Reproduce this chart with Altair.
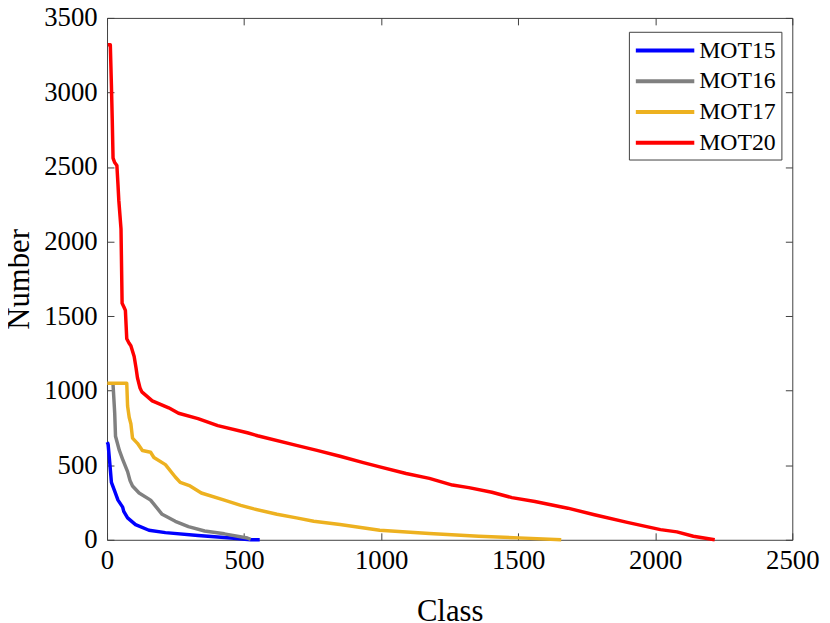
import altair as alt
import pandas as pd

# ---- data ----
mot15_x = [1, 4, 10, 16, 28, 40, 57, 61, 75, 104, 153, 213, 332, 452, 524, 557]
mot15_y = [655, 640, 516, 385, 326, 266, 219, 191, 147, 102, 64, 48, 29, 12, 0, 0]

mot16_x = [22, 28, 31, 45, 57, 75, 84, 93, 117, 159, 201, 249, 297, 356, 428, 512, 524]
mot16_y = [1040, 849, 694, 599, 540, 457, 397, 361, 314, 266, 171, 124, 88, 59, 40, 12, 3]

mot17_x = [1, 72, 75, 81, 87, 93, 111, 129, 159, 171, 213, 249, 267, 303, 344, 428, 488,
           536, 620, 691, 754, 850, 995, 1176, 1356, 1503, 1657]
mot17_y = [1050, 1050, 897, 820, 778, 682, 647, 599, 587, 552, 504, 421, 385, 361, 314, 266,
           231, 207, 171, 147, 124, 102, 64, 42, 24, 13, 0]

mot20_x = [3, 12, 16, 19, 22, 28, 36, 40, 43, 51, 55, 62, 67, 72, 80, 87, 99, 106, 111, 120,
           127, 165, 225, 261, 332, 404, 512, 549, 691, 766, 850, 935, 995, 1091, 1176, 1260,
           1320, 1404, 1477, 1561, 1681, 1778, 1898, 2019, 2079, 2139, 2217]
mot20_y = [3320, 3320, 3050, 2823, 2560, 2530, 2510, 2380, 2276, 2085, 1586, 1560, 1539, 1348,
           1320, 1301, 1229, 1150, 1087, 1020, 992, 932, 885, 849, 813, 766, 718, 698, 633, 600,
           560, 518, 489, 445, 412, 367, 350, 319, 283, 257, 212, 168, 117, 68, 53, 24, 0]

series_names = ["MOT15", "MOT16", "MOT17", "MOT20"]
series_colors = ["#0000FF", "#808080", "#EDB120", "#FF0000"]
x_ticks = [0, 500, 1000, 1500, 2000, 2500]
y_ticks = [0, 500, 1000, 1500, 2000, 2500, 3000, 3500]

rows = []
for name, xs, ys in zip(series_names, [mot15_x, mot16_x, mot17_x, mot20_x],
                        [mot15_y, mot16_y, mot17_y, mot20_y]):
    for i, (a, b) in enumerate(zip(xs, ys)):
        rows.append({"cls": a, "num": b, "series": name, "idx": i})
df = pd.DataFrame(rows)

FONT = "Liberation Serif"
AX = "#404040"

xscale = alt.Scale(domain=[0, 2500], nice=False, zero=False)
yscale = alt.Scale(domain=[0, 3500], nice=False, zero=False)

main_x = alt.Axis(orient="bottom", values=x_ticks, format="d", ticks=False, domain=False,
                  grid=False, labelFont=FONT, labelFontSize=27,
                  labelPadding=8, labelFlush=False,
                  title="Class", titleFont=FONT, titleFontSize=31, titleFontWeight="normal",
                  titlePadding=23)
main_y = alt.Axis(orient="left", values=y_ticks, format="d", ticks=False, domain=False,
                  grid=False, labelFont=FONT, labelFontSize=27,
                  labelPadding=10, labelFlush=False,
                  title="Number", titleFont=FONT, titleFontSize=31, titleFontWeight="normal",
                  titlePadding=8)


def tick_axis(orient, vals):
    return alt.Axis(orient=orient, values=vals, offset=-7, tickSize=7, ticks=True,
                    labels=False, domain=False, grid=False, title=None,
                    tickColor=AX, tickWidth=1)


lines = alt.Chart(df).mark_line(strokeWidth=3.5, strokeJoin="round").encode(
    x=alt.X("cls:Q", scale=xscale, axis=main_x),
    y=alt.Y("num:Q", scale=yscale, axis=main_y),
    color=alt.Color("series:N",
                    scale=alt.Scale(domain=series_names, range=series_colors),
                    legend=alt.Legend(orient="none", legendX=527, legendY=14, title=None,
                                      strokeColor=AX, fillColor="white", padding=5,
                                      labelFont=FONT, labelFontSize=24,
                                      symbolType="M-1,0H3.92", symbolStrokeWidth=4,
                                      symbolSize=576, labelOffset=38, rowPadding=5)),
    order="idx:Q",
)

ticks_bl = alt.Chart(df).mark_point(opacity=0).encode(
    x=alt.X("cls:Q", scale=xscale, axis=tick_axis("bottom", x_ticks)),
    y=alt.Y("num:Q", scale=yscale, axis=tick_axis("left", y_ticks)),
)
ticks_tr = alt.Chart(df).mark_point(opacity=0).encode(
    x=alt.X("cls:Q", scale=xscale, axis=tick_axis("top", x_ticks)),
    y=alt.Y("num:Q", scale=yscale, axis=tick_axis("right", y_ticks)),
)

chart = alt.layer(lines, ticks_bl, ticks_tr).resolve_scale(
    x="independent", y="independent"
).properties(
    width=692, height=527,
    padding={"left": 100, "top": 7, "right": 30, "bottom": 81},
    autosize=alt.AutoSizeParams(type="none"),
).configure_view(stroke=AX, strokeWidth=1)

chart.save("out.html", embed_options={"renderer": "svg", "actions": False})
